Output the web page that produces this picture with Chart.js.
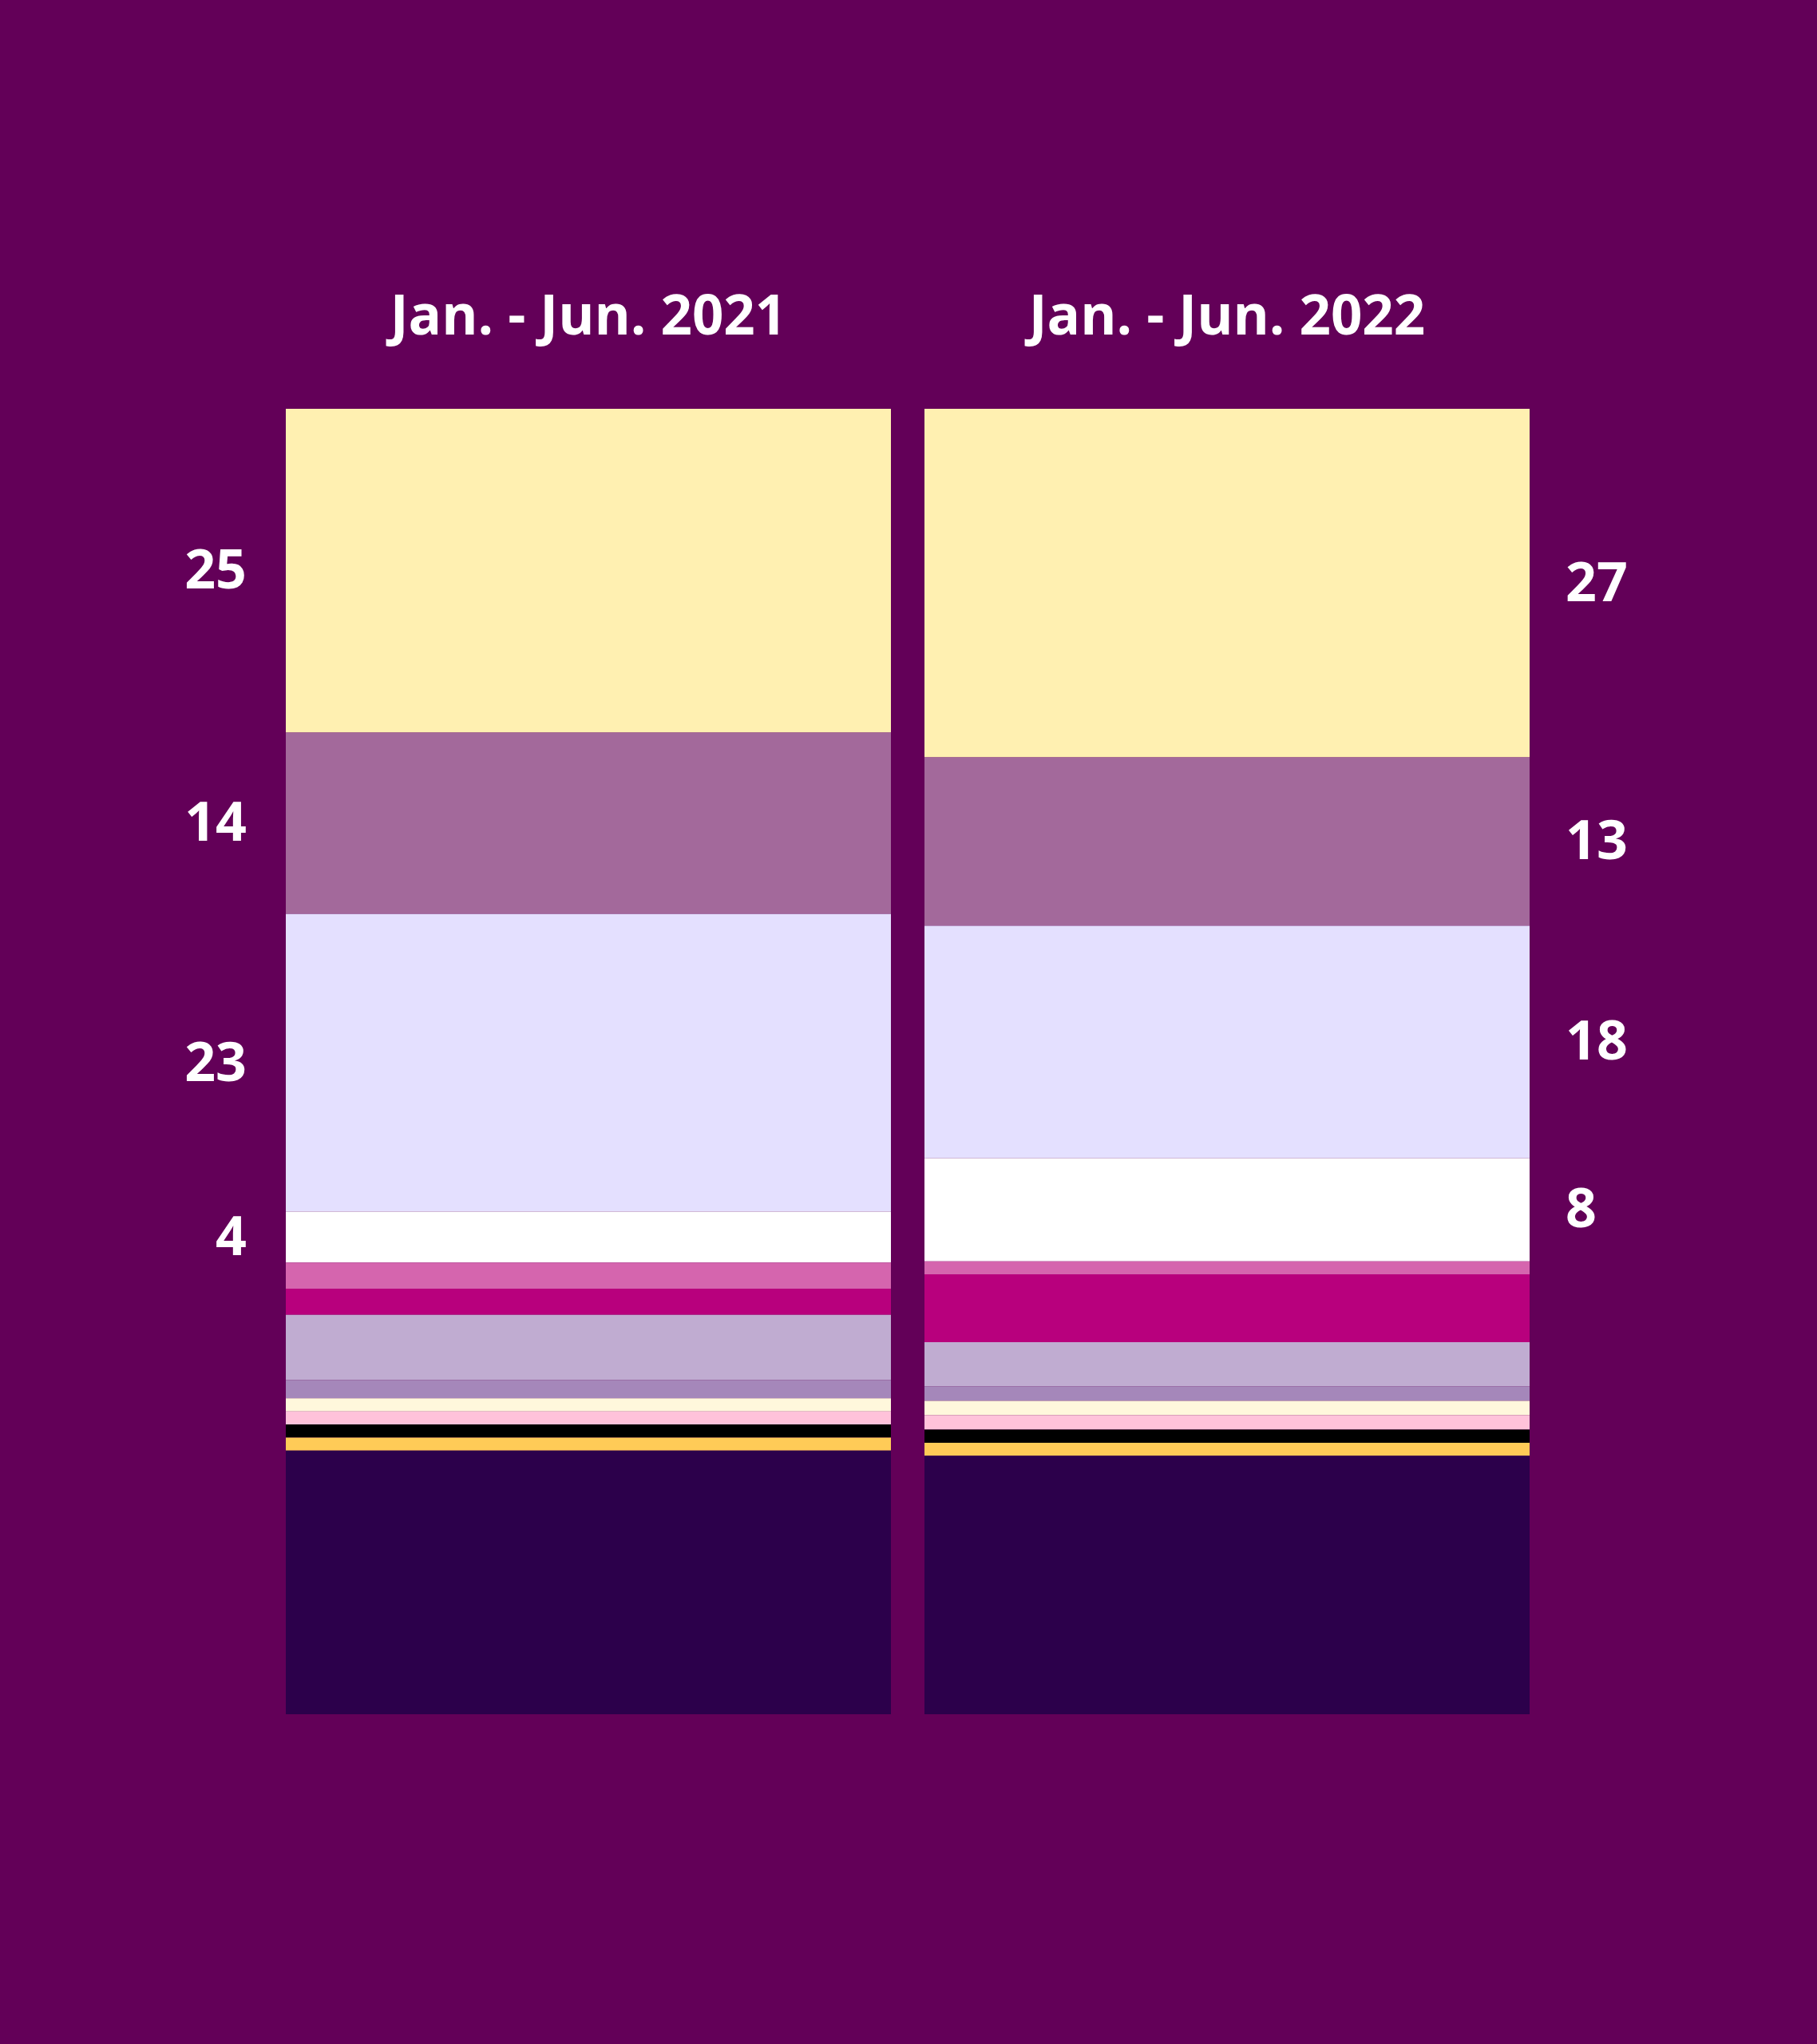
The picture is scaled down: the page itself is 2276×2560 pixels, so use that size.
<!DOCTYPE html>
<html>
<head>
<meta charset="utf-8">
<script src="https://cdn.jsdelivr.net/npm/chart.js@4.4.0/dist/chart.umd.min.js"></script>
<style>
  html, body { margin: 0; padding: 0; background: #630058; }
  canvas { display: block; }
</style>
</head>
<body>
<canvas id="shareChart" width="2276" height="2560"></canvas>
<script>
// ========================================
// STACKED SHARE CHART (top segment first)
// ========================================

const periods = ['Jan. - Jun. 2021', 'Jan. - Jun. 2022'];

// segment colours, listed from the top of each bar down to the bottom
const segmentColors = [
  '#FFF0B1', '#A3699B', '#E4E0FF', '#FFFFFF', '#D565AE', '#B8007D', '#C0ACD1',
  '#A587BA', '#FFF7DC', '#FFC2DA', '#000000', '#FFCB57', '#2C004B'
];

// share per segment (%), same order as colours
const values2021 = [24.8, 13.9, 22.8, 3.9, 2.0, 2.0, 5.0, 1.4, 1.0, 1.0, 1.0, 1.0, 20.2];
const values2022 = [26.7, 12.9, 17.8, 7.9, 1.0, 5.2, 3.4, 1.1, 1.1, 1.1, 1.0, 1.0, 19.8];

// numbers printed beside the bars (first four segments only)
const labels2021 = ['25', '14', '23', '4'];
const labels2022 = ['27', '13', '18', '8'];

const FONT = '"Open Sans", Lato, sans-serif';

document.addEventListener('DOMContentLoaded', () => {

  // Chart.js stacks from the bottom up, so reverse the top-down lists
  const datasets = segmentColors.map((color, i) => ({
    label: 'segment ' + (i + 1),
    data: [values2021[i], values2022[i]],
    backgroundColor: color,
    borderWidth: 0,
    barPercentage: 1,
    categoryPercentage: 0.9475
  })).reverse();

  const sideLabels = {
    id: 'sideLabels',
    afterDatasetsDraw(chart) {
      const ctx = chart.ctx;
      const n = chart.data.datasets.length;
      ctx.save();
      ctx.fillStyle = '#FFFFFF';
      ctx.textBaseline = 'middle';

      // period titles over each bar
      ctx.font = '700 69px ' + FONT;
      ctx.textAlign = 'center';
      periods.forEach((p, j) => {
        const x = chart.scales.x.getPixelForValue(j);
        ctx.fillText(p, x, 399);
      });

      // values beside the large segments
      ctx.font = '700 68px ' + FONT;
      [labels2021, labels2022].forEach((labels, j) => {
        labels.forEach((text, k) => {
          const meta = chart.getDatasetMeta(n - 1 - k);
          const bar = meta.data[j];
          const yMid = (bar.y + bar.base) / 2 + 3;
          if (j === 0) {
            ctx.textAlign = 'right';
            ctx.fillText(text, bar.x - bar.width / 2 - 49, yMid);
          } else {
            ctx.textAlign = 'left';
            ctx.fillText(text, bar.x + bar.width / 2 + 45, yMid);
          }
        });
      });
      ctx.restore();
    }
  };

  new Chart(document.getElementById('shareChart'), {
    type: 'bar',
    data: { labels: periods, datasets: datasets },
    options: {
      responsive: false,
      devicePixelRatio: 1,
      animation: false,
      layout: {
        padding: { left: 337, right: 339, top: 512, bottom: 413 }
      },
      scales: {
        x: { stacked: true, display: false },
        y: { stacked: true, display: false, min: 0, max: 100 }
      },
      plugins: {
        legend: { display: false },
        tooltip: { enabled: false }
      }
    },
    plugins: [sideLabels]
  });
});
</script>
</body>
</html>
